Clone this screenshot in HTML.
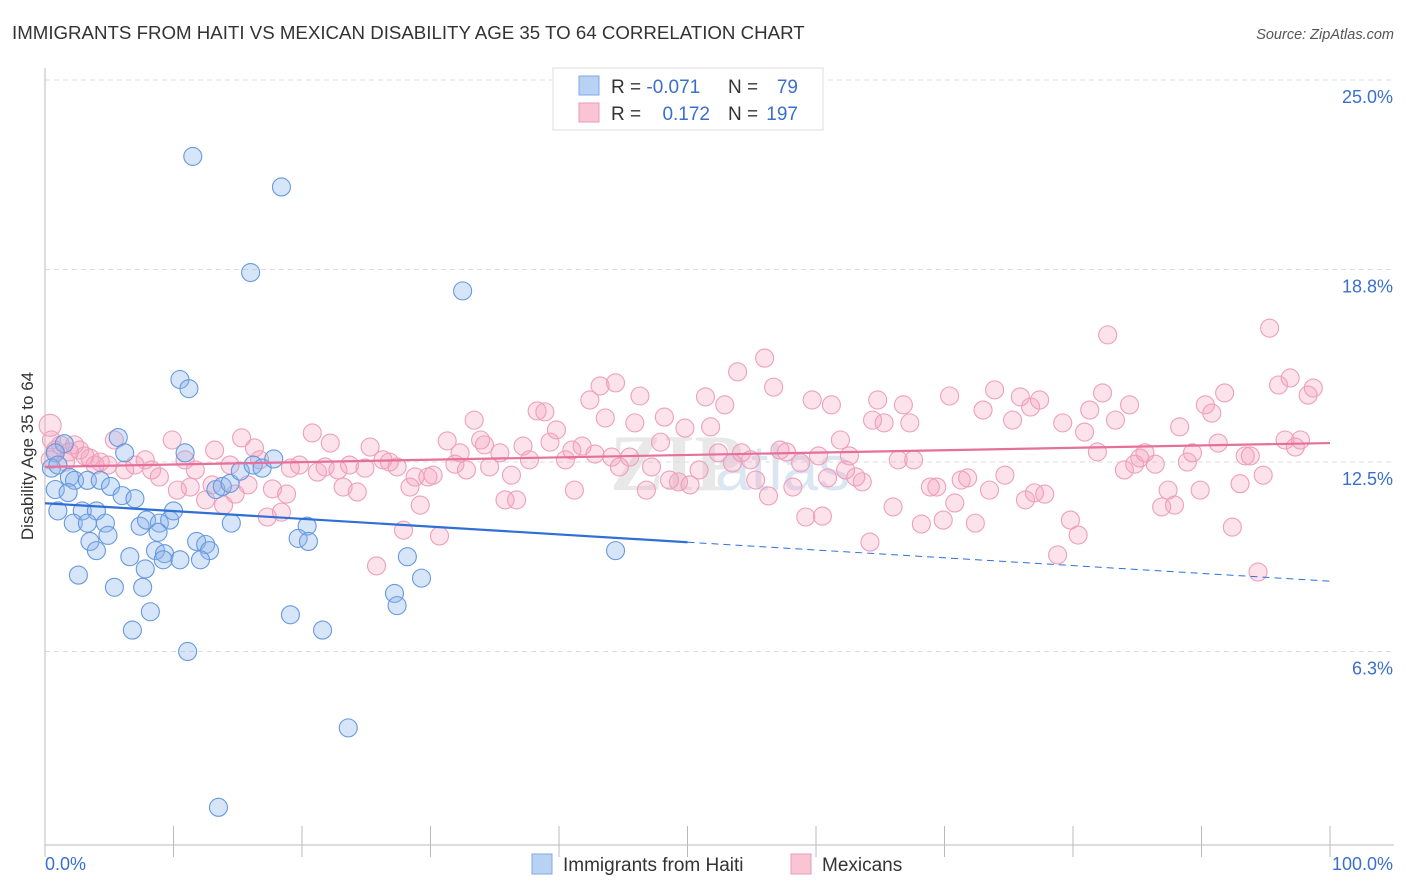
<!DOCTYPE html>
<html><head><meta charset="utf-8"><style>
body{margin:0;background:#fff;font-family:"Liberation Sans",sans-serif}
svg{display:block}
</style></head><body>
<svg id="chart" width="1406" height="892" xmlns="http://www.w3.org/2000/svg">
<text x="12" y="39" font-size="18.7" fill="#333">IMMIGRANTS FROM HAITI VS MEXICAN DISABILITY AGE 35 TO 64 CORRELATION CHART</text>
<text x="1394" y="39" font-size="14.5" fill="#555" font-style="italic" text-anchor="end">Source: ZipAtlas.com</text>
<text x="0" y="0" transform="translate(33,456) rotate(-90)" font-size="17" fill="#333" text-anchor="middle">Disability Age 35 to 64</text>
<text x="610" y="490" font-size="80" fill="#e8e8e8" font-weight="bold" font-family="Liberation Serif,serif">ZIP</text>
<text x="715" y="490" font-size="64" fill="#dbe6f3">atlas</text>
<g id="grid"></g><g id="axes"></g><g id="pts"></g><g id="trends"></g>
<g>
<rect x="553" y="68" width="270" height="62" fill="#fff" stroke="#ddd"/>
<rect x="579" y="76" width="20" height="19" fill="#b8d2f4" stroke="#7ea9e6"/>
<rect x="579" y="103" width="20" height="19" fill="#f9c5d5" stroke="#ec9ab4"/>
<text x="611" y="93" font-size="19" fill="#333">R = <tspan fill="#3a70cc">-0.071</tspan></text>
<text x="728" y="93" font-size="19" fill="#333">N =</text><text x="798" y="93" font-size="19" fill="#3a70cc" text-anchor="end">79</text>
<text x="611" y="120" font-size="19" fill="#333">R = </text><text x="710" y="120" font-size="19" fill="#3a70cc" text-anchor="end">0.172</text>
<text x="728" y="120" font-size="19" fill="#333">N =</text><text x="798" y="120" font-size="19" fill="#3a70cc" text-anchor="end">197</text>
</g>
<g>
<rect x="532" y="854" width="20" height="20" fill="#b8d2f4" stroke="#7ea9e6"/>
<text x="563" y="871" font-size="19" fill="#333">Immigrants from Haiti</text>
<rect x="791" y="854" width="20" height="20" fill="#f9c5d5" stroke="#ec9ab4"/>
<text x="822" y="871" font-size="19" fill="#333">Mexicans</text>
</g>
<text x="45" y="870" font-size="18" fill="#3a70cc">0.0%</text>
<text x="1393" y="870" font-size="18" fill="#3a70cc" text-anchor="end">100.0%</text>
</svg>
<script>
const yTicks=[25.0,18.8,12.5,6.3];
const yTickLabels=["25.0%","18.8%","12.5%","6.3%"];
const xTicks=[0,10,20,30,40,50,60,70,80,90,100];
const haitiX=[11.5,18.4,16.0,32.5,10.5,11.2,5.7,6.2,10.9,1.5,0.8,0.5,1.0,1.9,2.3,3.3,4.3,5.1,0.8,1.8,6.0,7.0,13.3,13.8,14.4,15.2,16.2,16.9,17.8,1.0,2.9,4.0,2.2,3.3,4.7,4.9,3.5,4.0,7.4,7.9,8.9,9.7,10.0,8.8,14.5,20.4,19.7,20.5,6.6,8.6,9.3,9.2,10.5,11.8,12.5,12.8,12.1,7.8,2.6,5.4,7.6,8.2,6.8,19.1,21.6,11.1,23.6,13.5,27.2,27.4,28.2,29.3,44.4];
const haitiY=[22.5,21.5,18.7,18.1,15.2,14.9,13.3,12.8,12.8,13.1,12.8,12.3,12.4,12.0,11.9,11.9,11.9,11.7,11.6,11.5,11.4,11.3,11.6,11.7,11.8,12.2,12.4,12.3,12.6,10.9,10.9,10.9,10.5,10.5,10.5,10.1,9.9,9.6,10.4,10.6,10.5,10.6,10.9,10.2,10.5,10.4,10.0,9.9,9.4,9.6,9.5,9.3,9.3,9.9,9.8,9.6,9.3,9.0,8.8,8.4,8.4,7.6,7.0,7.5,7.0,6.3,3.8,1.2,8.2,7.8,9.4,8.7,9.6];
const mexX=[0.4,1.2,1.9,2.7,3.5,4.3,4.9,5.4,6.2,7.0,7.8,8.3,8.9,9.9,10.3,10.9,11.7,11.3,12.5,13.0,13.2,13.9,14.4,14.8,15.3,15.8,16.3,16.7,17.3,17.7,18.4,18.8,19.1,19.8,20.8,21.2,21.8,22.2,22.8,23.2,23.7,24.3,24.9,25.3,25.8,26.3,26.8,27.4,27.9,28.4,28.8,29.2,29.8,30.2,30.7,31.3,31.9,32.3,32.8,33.4,33.9,34.2,34.6,35.4,35.8,36.3,36.7,37.2,37.7,38.3,38.9,39.3,39.8,40.5,41.0,41.2,41.8,42.4,42.8,43.2,43.6,44.1,44.4,44.7,45.5,45.9,46.3,46.8,47.2,47.9,48.2,48.6,49.3,49.8,50.2,50.9,51.4,51.8,52.4,52.9,53.5,53.9,54.2,54.9,55.3,56.0,56.3,56.7,57.2,57.7,58.2,58.8,59.2,59.7,60.2,60.5,60.9,61.2,61.9,62.3,62.6,63.1,63.6,64.2,64.4,64.8,65.3,66.0,66.4,66.8,67.3,67.6,68.2,68.9,69.4,69.9,70.4,70.8,71.3,71.8,72.4,73.0,73.5,73.9,74.7,75.3,75.9,76.3,76.7,77.0,77.4,77.8,78.8,79.2,79.8,80.4,80.9,81.3,81.9,82.3,82.7,83.3,84.0,84.4,84.8,85.2,85.6,86.4,86.9,87.4,87.9,88.3,88.9,89.3,89.9,90.3,90.8,91.3,91.8,92.4,93.0,93.4,93.8,94.4,94.8,95.3,96.0,96.5,96.9,97.3,97.7,98.3,98.7,0.4,0.8,1.6,2.3,3.1,3.9,0.5];
const mexY=[13.7,13.06,12.83,12.89,12.63,12.5,12.4,13.22,12.24,12.4,12.57,12.24,12.01,13.22,11.58,12.57,12.24,11.68,11.26,11.75,12.89,11.09,12.4,11.45,13.29,11.75,12.96,12.57,10.7,11.62,10.86,11.45,12.3,12.4,13.45,12.17,12.34,13.12,12.24,11.68,12.4,11.52,12.3,12.99,9.1,12.57,12.5,12.34,10.27,11.68,12.01,11.09,12.01,12.07,10.08,13.19,12.43,12.8,12.24,13.87,13.22,13.06,12.34,12.8,11.26,12.07,11.26,13.02,12.57,14.17,14.14,13.15,13.55,12.57,12.89,11.58,13.02,14.53,12.76,14.99,13.94,12.66,15.09,12.34,12.66,13.78,14.66,11.58,12.34,13.15,13.97,11.91,11.85,13.61,11.75,12.24,14.63,13.65,12.8,14.37,12.47,15.45,12.8,12.57,11.91,15.9,11.39,14.95,12.89,12.83,11.68,12.47,10.7,14.53,12.7,10.73,11.98,14.37,13.22,12.24,12.7,12.01,11.85,9.88,13.87,14.53,13.78,11.03,12.57,14.37,13.78,12.57,10.47,11.68,11.68,10.6,14.66,11.16,11.91,11.98,10.5,14.2,11.58,14.86,12.07,13.87,14.63,11.26,14.3,11.49,14.53,11.45,9.46,13.78,10.6,10.11,13.48,14.2,12.83,14.76,16.66,13.87,12.24,14.37,12.43,12.63,12.8,12.43,11.03,11.58,11.09,13.65,12.5,12.8,11.58,14.37,14.1,13.12,14.76,10.37,11.79,12.7,12.7,8.9,12.07,16.88,15.02,13.22,15.25,12.99,13.22,14.69,14.92,12.57,12.89,12.5,13.06,12.7,12.4,13.22];
const haitiTrend=[11.15,8.6];
const mexTrend=[12.34,13.12];
const NS='http://www.w3.org/2000/svg';
const X0=45,X1=1330,Y0=844,Y25=80;
function sx(v){return X0+(X1-X0)*v/100;}
function sy(v){return Y0-(Y0-Y25)*v/25;}
function mk(tag,attrs,parent){const e=document.createElementNS(NS,tag);for(const k in attrs)e.setAttribute(k,attrs[k]);document.getElementById(parent).appendChild(e);return e;}
yTicks.forEach((t,i)=>{
 const l=mk('line',{x1:X0,x2:1394,y1:sy(t),y2:sy(t),stroke:'#ddd','stroke-dasharray':'5,4'},'grid');
 
 
 const tx=mk('text',{x:1393,y:sy(t)+23,'font-size':18,fill:'#3a70cc','text-anchor':'end'},'grid');
 tx.textContent=yTickLabels[i];
 
 
});
const xa=mk('line',{x1:X0,x2:1394,y1:845,y2:845,stroke:'#bbb'},'axes');


const ya=mk('line',{x1:X0,x2:X0,y1:68,y2:845,stroke:'#bbb'},'axes');


xTicks.forEach(t=>{
 const l=mk('line',{x1:sx(t),x2:sx(t),y1:826,y2:857,stroke:'#bbb'},'axes');
 
 
});
mexX.forEach((x,i)=>{
 const c=mk('circle',{cx:sx(x),cy:sy(mexY[i]),r:(i===0?11:9),fill:'rgba(244,160,188,0.3)',stroke:'#ee9fba','stroke-width':1.1},'pts');
 
 
});
haitiX.forEach((x,i)=>{
 const c=mk('circle',{cx:sx(x),cy:sy(haitiY[i]),r:9,fill:'rgba(140,180,236,0.35)',stroke:'#6699df','stroke-width':1.1},'pts');
 
 
});
const hmid=haitiTrend[0]+(haitiTrend[1]-haitiTrend[0])*0.5;
const h1=mk('line',{x1:sx(0),y1:sy(haitiTrend[0]),x2:sx(50),y2:sy(hmid),stroke:'#2f6fd6','stroke-width':2.2},'trends');


const h2=mk('line',{x1:sx(50),y1:sy(hmid),x2:sx(100),y2:sy(haitiTrend[1]),stroke:'#2f6fd6','stroke-width':1,'stroke-dasharray':'7,5'},'trends');


const m1=mk('line',{x1:sx(0),y1:sy(mexTrend[0]),x2:sx(100),y2:sy(mexTrend[1]),stroke:'#e5709a','stroke-width':2.2},'trends');


</script>
</body></html>
